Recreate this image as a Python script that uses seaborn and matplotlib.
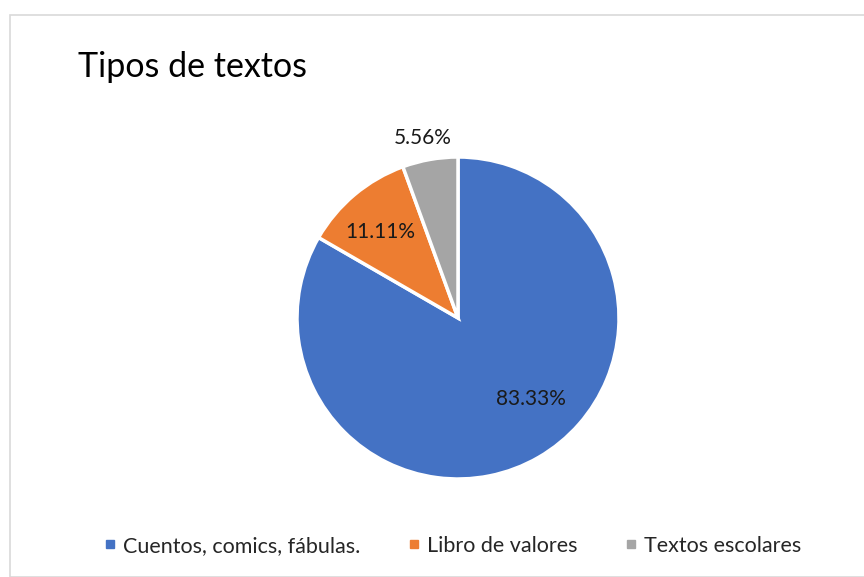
import numpy as np
import matplotlib.pyplot as plt
import seaborn as sns
from matplotlib.lines import Line2D
from matplotlib.patches import Rectangle

sns.set_style('white')
plt.rcParams['font.family'] = ['Lato', 'DejaVu Sans']

categories = ['Cuentos, comics, fábulas.', 'Libro de valores', 'Textos escolares']
values = [83.33, 11.11, 5.56]
colors = ['#4472C4', '#ED7D31', '#A5A5A5']

fig = plt.figure(figsize=(8.64, 5.77), dpi=100)
fig.patches.append(Rectangle((10 / 864, 0), 1, 1 - 15 / 577, transform=fig.transFigure,
                             fill=False, edgecolor='#D9D9D9', linewidth=1.2))

cx, cy, r = 458, 318, 161
ax = fig.add_axes([(cx - r) / 864, (577 - cy - r) / 577, 2 * r / 864, 2 * r / 577])
wedges, texts, autotexts = ax.pie(values, colors=colors, startangle=90, counterclock=False,
                                  autopct='%.2f%%', pctdistance=0.7,
                                  wedgeprops=dict(edgecolor='white', linewidth=2.5),
                                  textprops=dict(fontsize=15, color='#1a1a1a'))
ax.set_aspect('auto')
ax.set_xlim(-1, 1)
ax.set_ylim(-1, 1)

# label placement like the Excel original (radius, angle in degrees)
label_pos = [(0.68, -48), (0.72, 132), (1.14, 101)]
for t, (rad, a) in zip(autotexts, label_pos):
    t.set_position((rad * np.cos(np.deg2rad(a)), rad * np.sin(np.deg2rad(a))))

fig.text(78 / 864, 1 - 77 / 577, 'Tipos de textos', fontsize=24.5, color='#000000', va='baseline')

handles = [Line2D([], [], marker='s', linestyle='none', markersize=6,
                  markerfacecolor=c, markeredgecolor=c) for c in colors]
fig.legend(handles, categories, loc='center', bbox_to_anchor=(450 / 864, 1 - 546 / 577),
           ncol=3, frameon=False, fontsize=15.5, handletextpad=0.1, columnspacing=2.0,
           handlelength=1.0)

fig.savefig('out.png', dpi=100)
